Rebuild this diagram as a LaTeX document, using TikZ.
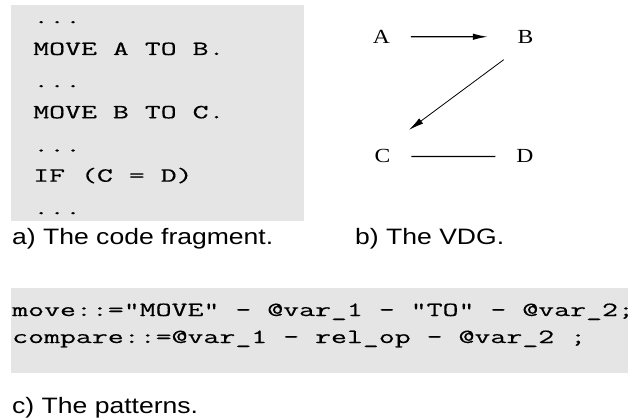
\documentclass[tikz,border=0pt]{standalone}
\usepackage{fontspec}
\setmainfont{Liberation Serif}[FakeStretch=1.18]
\setsansfont{Liberation Sans}[FakeStretch=1.19]
\setmonofont{Latin Modern Mono}[FakeStretch=1.54,FakeBold=0.4]
\usetikzlibrary{arrows.meta}
\definecolor{boxgray}{RGB}{229,229,229}
\begin{document}
\begin{tikzpicture}[x=1pt,y=-1pt,
  code/.style={font=\ttfamily\fontsize{20.1}{24}\selectfont, anchor=base west, inner sep=0pt},
  captiontext/.style={font=\sffamily\fontsize{22.3}{26}\selectfont, anchor=base west, inner sep=0pt},
  var/.style={font=\rmfamily\fontsize{20}{24}\selectfont, anchor=base, inner sep=0pt},
  edge/.style={line width=1.4pt},
  tip/.style={-{Latex[length=15pt,width=6.5pt]}}]
\useasboundingbox (0,0) rectangle (628,419);
% background boxes
\fill[boxgray] (11,5) rectangle (304,221);
\fill[boxgray] (11,288) rectangle (640,373);
% code fragment
\node[code] (l1) at (33,23.3) {...};
\node[code] (l2) at (33,55) {MOVE A TO B.};
\node[code] (l3) at (33,87.3) {...};
\node[code] (l4) at (33,118.3) {MOVE B TO C.};
\node[code] (l5) at (33,151.7) {...};
\node[code] (l6) at (33,181.7) {IF (C = D)};
\node[code] (l7) at (33,214.3) {...};
% captions
\node[captiontext] (capa) at (12,245) {a) The code fragment.};
\node[captiontext] (capb) at (355,245) {b) The VDG.};
\node[captiontext] (capc) at (12,413) {c) The patterns.};
% VDG
\node[var] (A) at (381.5,43.3) {A};
\node[var] (B) at (525.5,43.3) {B};
\node[var] (C) at (382.5,163) {C};
\node[var] (D) at (525,163) {D};
\draw[edge,tip,shorten <=20.7pt,shorten >=29.6pt] (A.east) -- (B.west);
\draw[line width=0.8pt,tip,shorten <=27pt,shorten >=33pt] (B.south) -- (C.north);
\draw[edge,shorten <=20.7pt,shorten >=21pt] (C.east) -- (D.west);
% patterns
\node[code] (p1) at (12,316) {move::="MOVE" - @var\_1 - "TO" - @var\_2;};
\node[code] (p2) at (12,343) {compare::=@var\_1 - rel\_op - @var\_2 ;};
\end{tikzpicture}
\end{document}
